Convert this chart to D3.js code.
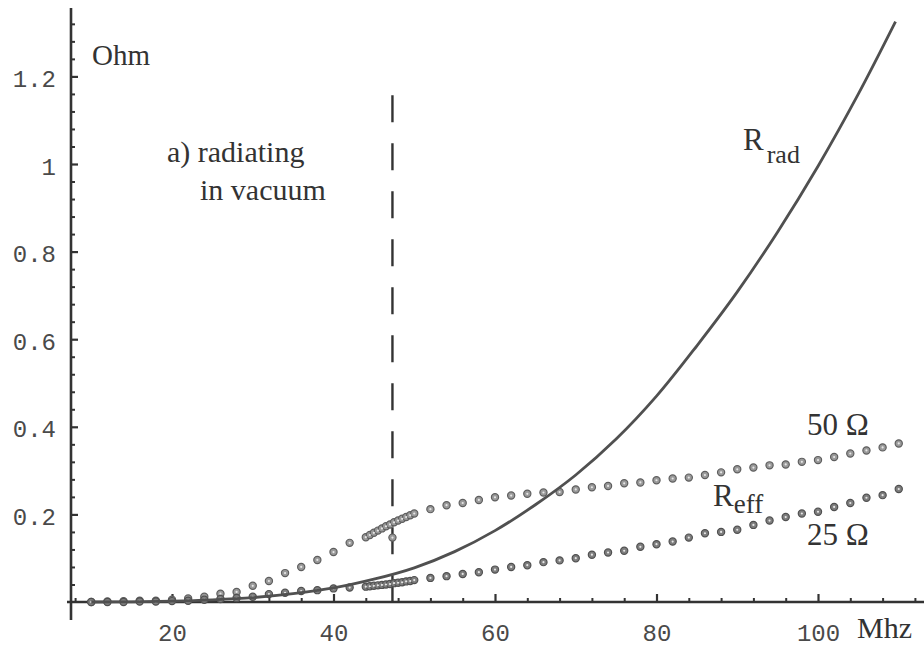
<!DOCTYPE html>
<html>
<head>
<meta charset="utf-8">
<script src="https://cdn.jsdelivr.net/npm/d3@7"></script>
<style>
  html, body { margin: 0; padding: 0; background: #fff; }
  svg { display: block; }
</style>
</head>
<body>
<svg id="chart" width="924" height="653"></svg>
<script>
// ---- Data ----
const radFreq = [10, 15, 20, 25, 30, 35, 40, 45, 50, 55, 60, 65, 70, 75, 80, 85, 90, 95, 100, 105, 109.6];
const radOhm  = [0, 0.0005, 0.002, 0.005, 0.01, 0.019, 0.032, 0.052, 0.078, 0.115, 0.163, 0.222, 0.29, 0.372, 0.47, 0.585, 0.708, 0.845, 0.995, 1.16, 1.325];

const freq50 = [10, 12, 14, 16, 18, 20, 22, 24, 26, 28, 30, 32, 34, 36, 38, 40, 42, 44, 44.5, 45, 45.5, 46, 46.5, 47, 47.5, 48, 48.5, 49, 49.5, 50,
  52, 54, 56, 58, 60, 62, 64, 66, 68, 70, 72, 74, 76, 78, 80, 82, 84, 86, 88, 90, 92, 94, 96, 98, 100, 102, 104, 106, 108, 110, 47.3];
const ohm50 = [0, 0.001, 0.002, 0.003, 0.003, 0.005, 0.008, 0.012, 0.019, 0.023, 0.037, 0.048, 0.066, 0.08, 0.096, 0.114, 0.135, 0.148, 0.153, 0.158, 0.163, 0.168, 0.173, 0.177, 0.182, 0.186, 0.19, 0.194, 0.198, 0.202,
  0.212, 0.221, 0.226, 0.233, 0.239, 0.243, 0.247, 0.25, 0.251, 0.257, 0.262, 0.265, 0.271, 0.273, 0.278, 0.282, 0.284, 0.29, 0.296, 0.303, 0.307, 0.312, 0.314, 0.32, 0.324, 0.331, 0.339, 0.346, 0.353, 0.362, 0.147];

const freq25 = [10, 12, 14, 16, 18, 20, 22, 24, 26, 28, 30, 32, 34, 36, 38, 40, 42, 44, 44.5, 45, 45.5, 46, 46.5, 47, 47.5, 48, 48.5, 49, 49.5, 50,
  52, 54, 56, 58, 60, 62, 64, 66, 68, 70, 72, 74, 76, 78, 80, 82, 84, 86, 88, 90, 92, 94, 96, 98, 100, 102, 104, 106, 108, 110];
const ohm25 = [0, 0, 0, 0.001, 0.001, 0.002, 0.003, 0.005, 0.007, 0.009, 0.012, 0.018, 0.021, 0.025, 0.027, 0.031, 0.033, 0.035, 0.036, 0.037, 0.038, 0.039, 0.040, 0.041, 0.043, 0.044, 0.045, 0.047, 0.048, 0.05,
  0.055, 0.059, 0.064, 0.068, 0.074, 0.08, 0.084, 0.091, 0.095, 0.1, 0.108, 0.113, 0.117, 0.126, 0.132, 0.138, 0.147, 0.157, 0.16, 0.165, 0.176, 0.186, 0.194, 0.202, 0.206, 0.217, 0.226, 0.238, 0.244, 0.258];

const xMajorTicks = [20, 40, 60, 80, 100];
const yMajorTicks = [0.2, 0.4, 0.6, 0.8, 1, 1.2];
const yTickLabels = ["0.2", "0.4", "0.6", "0.8", "1", "1.2"];
const markerFreq = 47.3;        // vertical dashed line
const markerTop = 1.157;

// ---- Scales ----
const x = d3.scaleLinear().domain([20, 100]).range([172, 818]);
const y = d3.scaleLinear().domain([0, 1.2]).range([602, 76.4]);

const svg = d3.select("#chart");
const ink = "#333";

// minor tick values
const xMinor = d3.range(8, 113, 4).filter(v => v % 20 !== 0);
const yMinor = d3.range(0.04, 1.34, 0.04).map(v => +v.toFixed(2)).filter(v => Math.abs(v / 0.2 - Math.round(v / 0.2)) > 1e-6);

const mono = "'Liberation Mono', 'Courier New', monospace";

// ---- Y axis ----
svg.append("g").attr("transform", `translate(${71},0)`)
  .call(d3.axisLeft(y).tickValues(yMinor).tickSize(-4).tickFormat(""))
  .call(g => g.select(".domain").remove())
  .call(g => g.selectAll("line").attr("stroke", ink).attr("stroke-width", 2));
svg.append("g").attr("transform", `translate(${71},0)`)
  .call(d3.axisLeft(y).tickValues(yMajorTicks).tickSize(-7).tickPadding(15)
    .tickFormat((d, i) => yTickLabels[i]))
  .call(g => g.select(".domain").remove())
  .call(g => g.selectAll("line").attr("stroke", ink).attr("stroke-width", 2.2))
  .call(g => g.selectAll("text").attr("font-family", mono)
      .attr("font-size", 24).attr("fill", "#4a4a4a").attr("dy", "0.42em"));
svg.append("line").attr("x1", 71).attr("x2", 71)
  .attr("y1", y(1.356)).attr("y2", y(-0.041))
  .attr("stroke", ink).attr("stroke-width", 2.6);

// ---- X axis ----
svg.append("g").attr("transform", `translate(0,${602})`)
  .call(d3.axisBottom(x).tickValues(xMinor).tickSize(-4).tickFormat(""))
  .call(g => g.select(".domain").remove())
  .call(g => g.selectAll("line").attr("stroke", ink).attr("stroke-width", 2));
svg.append("g").attr("transform", `translate(0,${602})`)
  .call(d3.axisBottom(x).tickValues(xMajorTicks).tickSize(-8).tickPadding(22).tickFormat(d3.format("d")))
  .call(g => g.select(".domain").remove())
  .call(g => g.selectAll("line").attr("stroke", ink).attr("stroke-width", 2.2))
  .call(g => g.selectAll("text").attr("font-family", mono)
      .attr("font-size", 24).attr("fill", "#4a4a4a"));
svg.append("line").attr("x1", 67).attr("x2", 924)
  .attr("y1", 602).attr("y2", 602)
  .attr("stroke", ink).attr("stroke-width", 2.6);

// ---- Dashed vertical line ----
svg.append("line")
  .attr("x1", x(markerFreq)).attr("x2", x(markerFreq))
  .attr("y1", y(markerTop)).attr("y2", y(0))
  .attr("stroke", ink).attr("stroke-width", 2.4)
  .attr("stroke-dasharray", "27,21");

// ---- Markers ----
function drawMarkers(fx, fy, fill, stroke) {
  const pts = fx.map((f, i) => [f, fy[i]]);
  const g = svg.append("g");
  g.selectAll("circle.m").data(pts).join("circle")
    .attr("class", "m")
    .attr("cx", d => x(d[0])).attr("cy", d => y(d[1]))
    .attr("r", 3.6).attr("fill", fill).attr("stroke", stroke).attr("stroke-width", 1.2);
  g.selectAll("circle.c").data(pts).join("circle")
    .attr("class", "c")
    .attr("cx", d => x(d[0])).attr("cy", d => y(d[1]))
    .attr("r", 1.1).attr("fill", "#e6e6e6");
}
drawMarkers(freq50, ohm50, "#9a9a9a", "#5e5e5e");
drawMarkers(freq25, ohm25, "#7e7e7e", "#505050");

// ---- R_rad curve ----
const line = d3.line().x(d => x(d[0])).y(d => y(d[1])).curve(d3.curveCatmullRom.alpha(0.5));
svg.append("path")
  .datum(radFreq.map((f, i) => [f, radOhm[i]]))
  .attr("d", line)
  .attr("fill", "none").attr("stroke", "#505050").attr("stroke-width", 2.8);

// ---- Labels ----
const serif = "'Liberation Serif', 'Times New Roman', serif";
function txt(xp, yp, s, size, anchor) {
  return svg.append("text").attr("x", xp).attr("y", yp).text(s)
    .attr("font-family", serif).attr("font-size", size).attr("fill", "#333")
    .attr("text-anchor", anchor || "start");
}
txt(92, 65, "Ohm", 29);
txt(857, 638, "Mhz", 30);
txt(167, 162, "a) radiating", 30);
txt(200, 200, "in vacuum", 30);

const rr = txt(743, 150, "R", 31);
rr.append("tspan").attr("dx", 3).attr("dy", 13).attr("font-size", 26).text("rad");
const re = txt(713, 506, "R", 31);
re.append("tspan").attr("dx", 0).attr("dy", 7).attr("font-size", 27).text("eff");
txt(807, 435, "50 Ω", 31);
txt(807, 545, "25 Ω", 31);
</script>
</body>
</html>
